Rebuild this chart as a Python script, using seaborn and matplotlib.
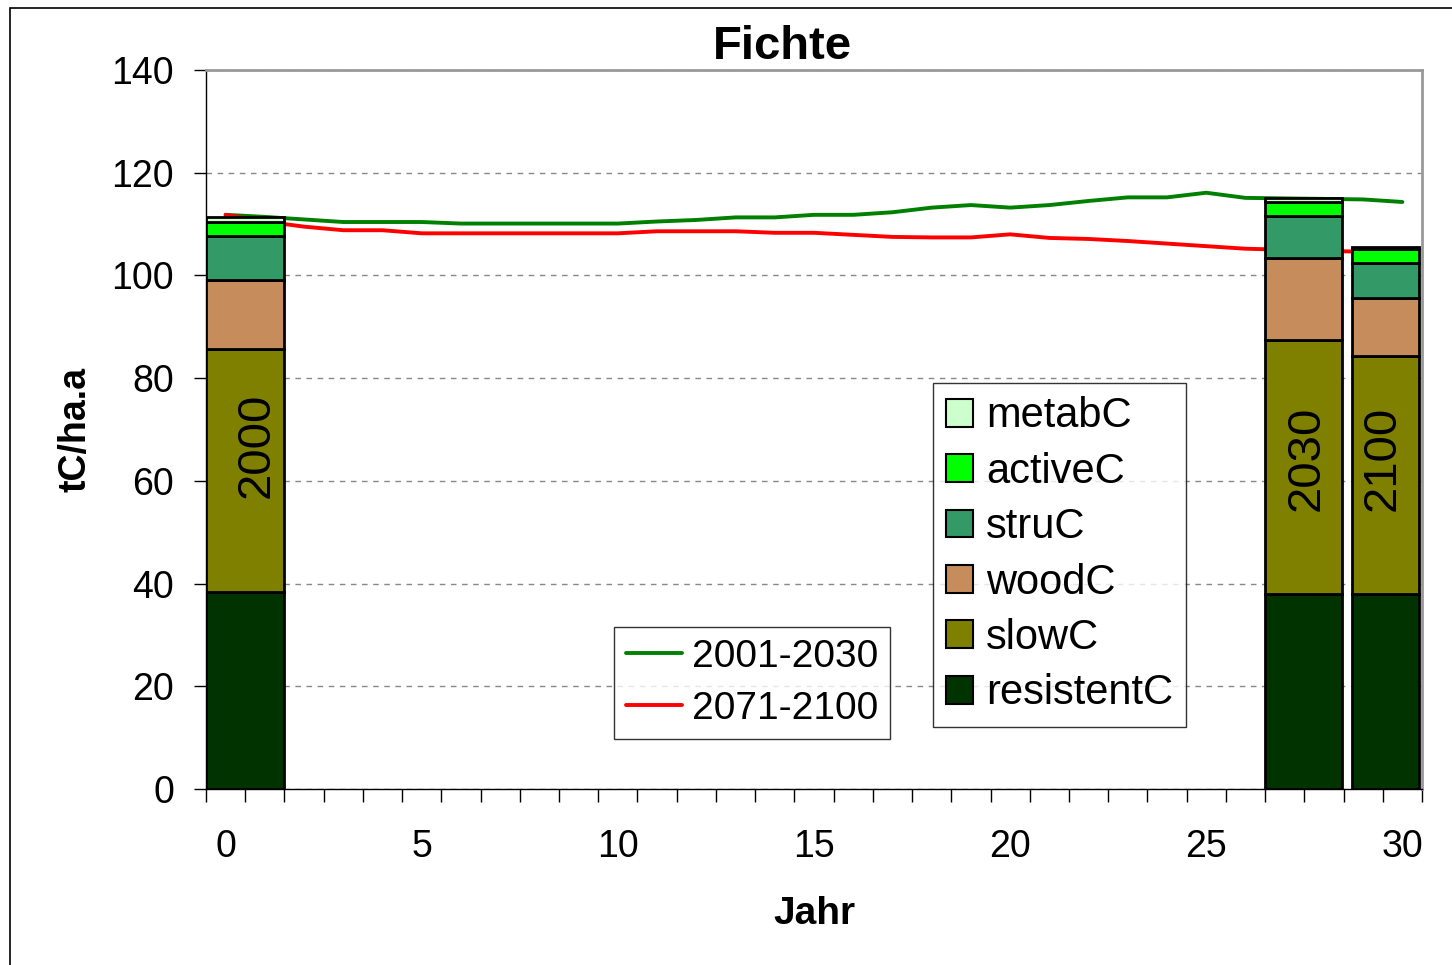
import numpy as np
import pandas as pd
import matplotlib
matplotlib.use("Agg")
import matplotlib.pyplot as plt
from matplotlib.patches import Rectangle
import seaborn as sns

# --- data ---
years = list(range(31))
green_2001_2030 = [111.8, 111.4, 110.9, 110.4, 110.4, 110.4, 110.1, 110.1, 110.1, 110.1,
                   110.1, 110.5, 110.8, 111.3, 111.3, 111.8, 111.8, 112.3, 113.2, 113.7,
                   113.2, 113.7, 114.5, 115.2, 115.2, 116.1, 115.1, 115.0, 114.9, 114.8,
                   114.3]
red_2071_2100 = [111.8, 110.5, 109.5, 108.8, 108.8, 108.2, 108.2, 108.2, 108.2, 108.2,
                 108.2, 108.6, 108.6, 108.6, 108.3, 108.3, 107.9, 107.5, 107.4, 107.4,
                 108.0, 107.3, 107.1, 106.7, 106.2, 105.7, 105.2, 105.0, 104.8, 104.6,
                 104.4]
line_labels = ["2001-2030", "2071-2100"]

bar_labels = ["2000", "2030", "2100"]
pools = ["resistentC", "slowC", "woodC", "struC", "activeC", "metabC"]
resistentC = [38.4, 38.0, 38.0]
slowC = [47.3, 49.4, 46.3]
woodC = [13.4, 16.0, 11.3]
struC = [8.6, 8.2, 6.8]
activeC = [2.7, 2.7, 2.7]
metabC = [1.0, 0.8, 0.4]

pool_colors = ["#003300", "#808000", "#c68c5c", "#339966", "#00ff00", "#ccffcc"]

# bar placement on the category axis (left edge, width)
bar_left = [-0.5, 26.5, 28.72]
bar_width = [1.98, 1.95, 1.7]

sns.set_theme(style="white")
plt.rcParams["font.family"] = ["Liberation Sans", "DejaVu Sans"]
plt.rcParams["text.color"] = "black"
plt.rcParams["axes.labelcolor"] = "black"
plt.rcParams["xtick.color"] = "black"
plt.rcParams["ytick.color"] = "black"

fig = plt.figure(figsize=(14.52, 9.65), dpi=100)
ax = fig.add_axes([206 / 1452, 1 - 789 / 965, 1216 / 1452, 719 / 965])

# outer frame of the chart
fig.patches.append(Rectangle((10 / 1452, -0.1), 1.2, (965 - 8) / 965 + 0.1,
                             transform=fig.transFigure, fill=False,
                             edgecolor="black", linewidth=1.2))

# lines
line_df = pd.DataFrame({
    "Jahr": years * 2,
    "value": green_2001_2030 + red_2071_2100,
    "Periode": [line_labels[0]] * len(years) + [line_labels[1]] * len(years),
})
sns.lineplot(data=line_df, x="Jahr", y="value", hue="Periode",
             palette={line_labels[0]: "#008000", line_labels[1]: "#ff0000"},
             linewidth=2.8, ax=ax, zorder=2, legend=False)

# stacked bars
stacks = [resistentC, slowC, woodC, struC, activeC, metabC]
bottoms = np.zeros(3)
pool_handles = []
for name, vals, col in zip(pools, stacks, pool_colors):
    bars = ax.bar(bar_left, vals, width=bar_width, bottom=bottoms, align="edge",
                  color=col, edgecolor="black", linewidth=2, zorder=3, label=name)
    pool_handles.append(bars)
    bottoms = bottoms + np.array(vals)

# year labels inside bars
label_x = [0.8, 27.55, 29.5]
label_y = [67, 64.4, 64.4]
for lbl, x, y in zip(bar_labels, label_x, label_y):
    ax.text(x, y, lbl, rotation=90, ha="center", va="center", fontsize=34, zorder=4)

ax.set_xlim(-0.5, 30.5)
ax.set_ylim(0, 140)
ax.set_yticks(range(0, 141, 20))
ax.set_xticks(range(0, 31, 5))
ax.set_xticks(np.arange(-0.5, 31, 1), minor=True)
ax.tick_params(axis="x", which="major", length=0, pad=29, labelsize=27)
ax.tick_params(axis="x", which="minor", length=9, width=1, color="black",
               direction="out", bottom=True)
ax.tick_params(axis="y", which="major", length=9, width=1, color="black",
               direction="out", left=True, pad=14, labelsize=27)

ax.grid(axis="y", linestyle=(0, (4, 4)), color="#888888", linewidth=1)
ax.set_axisbelow(True)
for side in ["top", "right"]:
    ax.spines[side].set_color("#999999")
    ax.spines[side].set_linewidth(2)
for side in ["left", "bottom"]:
    ax.spines[side].set_color("black")
    ax.spines[side].set_linewidth(1)

ax.set_xlabel("Jahr", fontsize=28, fontweight="bold", labelpad=22)
ax.set_ylabel("tC/ha.a", fontsize=27, fontweight="bold", labelpad=13)
fig.text(782 / 1452, 1 - 47 / 965, "Fichte", ha="center", va="center",
         fontsize=34, fontweight="bold")

# legends
line_handles = [plt.Line2D([], [], color="#008000", linewidth=2.8),
                plt.Line2D([], [], color="#ff0000", linewidth=2.8)]
leg1 = ax.legend(line_handles, line_labels, loc="upper left",
                 bbox_to_anchor=(614 / 1452, 1 - 627 / 965), bbox_transform=fig.transFigure,
                 fontsize=28, frameon=True, fancybox=False, edgecolor="black",
                 handlelength=1.45, handletextpad=0.25, borderpad=0.3,
                 borderaxespad=0, labelspacing=0.42)
leg1.get_frame().set_linewidth(1)
ax.add_artist(leg1)

leg2 = ax.legend(pool_handles[::-1], pools[::-1], loc="upper left",
                 bbox_to_anchor=(933 / 1452, 1 - 383 / 965), bbox_transform=fig.transFigure,
                 fontsize=30, frameon=True, fancybox=False, edgecolor="black",
                 handlelength=0.65, handleheight=0.65, handletextpad=0.3,
                 borderpad=0.32, borderaxespad=0, labelspacing=0.37)
leg2.get_frame().set_linewidth(1)
for p in leg2.get_patches():
    p.set_linewidth(1.5)

fig.savefig("out.png", dpi=100)
